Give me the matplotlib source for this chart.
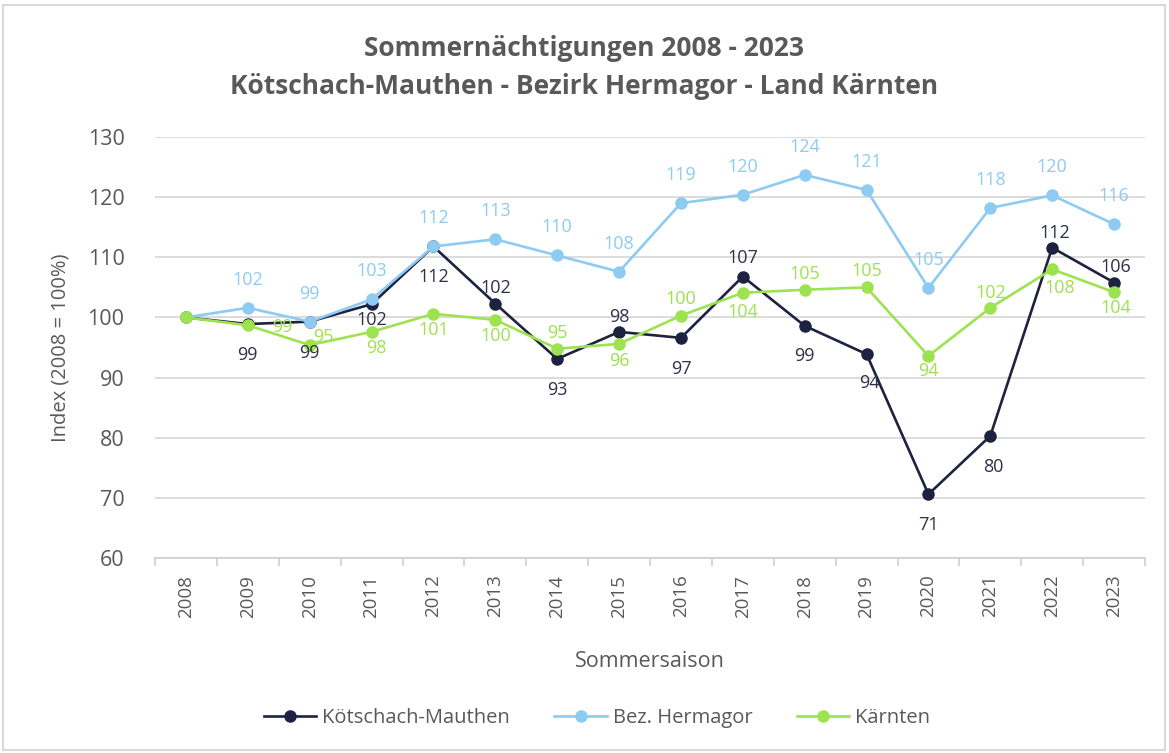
import matplotlib.pyplot as plt
from matplotlib.patches import Rectangle
import numpy as np

# data
years = [str(y) for y in range(2008, 2024)]
koetschach = [100, 98.9, 99.3, 102.2, 111.8, 102.3, 93.1, 97.6, 96.6, 106.8, 98.6, 93.9, 70.6, 80.3, 111.6, 105.8]
hermagor = [100, 101.6, 99.3, 103.0, 111.8, 113.0, 110.3, 107.6, 119.0, 120.4, 123.7, 121.2, 104.9, 118.2, 120.3, 115.5]
kaernten = [100, 98.7, 95.4, 97.6, 100.6, 99.6, 94.8, 95.6, 100.3, 104.1, 104.6, 105.0, 93.6, 101.6, 108.0, 104.2]

# label positions (pixel offsets), None = no label
off_k = [None, (0, -31), (0, -31), (0, -16), (0, -31), (0, 16), (0, -31), (0, 15), (0, -31),
         (0, 19), (0, -30), (3, -29), (0, -31), (3, -31), (3, 15), (2, 16)]
off_h = [None] + [(0, 28)] * 15
off_g = [None, (35, -2), (14, 8), (5, -16), (0, -16), (0, -16), (0, 16), (0, -17), (0, 17),
         (0, -19), (0, 16), (0, 16), (0, -15), (0, 15), (8, -19), (2, -16)]

c_k = '#1d2240'
c_h = '#8ecbf3'
c_g = '#9de24f'
grey = '#595959'

plt.rcParams['font.family'] = ['Open Sans', 'DejaVu Sans']

W, H = 1169, 753
fig = plt.figure(figsize=(W / 100, H / 100), dpi=100)
fig.patches.append(Rectangle((3 / W, 3 / H), 1162 / W, 745 / H, transform=fig.transFigure,
                             fill=False, edgecolor='#d9d9d9', linewidth=1.5))

ax = fig.add_axes([155 / W, 1 - 558 / H, 990 / W, 421 / H])
x = np.arange(len(years))

for vals, col, lab, offs, tcol in [(koetschach, c_k, 'Kötschach-Mauthen', off_k, '#2e3148'),
                                   (hermagor, c_h, 'Bez. Hermagor', off_h, c_h),
                                   (kaernten, c_g, 'Kärnten', off_g, c_g)]:
    ax.plot(x, vals, color=col, linewidth=1.9, marker='o', markersize=8, label=lab)
    for xi, v, o in zip(x, vals, offs):
        if o is None:
            continue
        ax.annotate(str(int(round(v))), (xi, v), xytext=(o[0] * 0.72, o[1] * 0.72),
                    textcoords='offset points', ha='center', va='center',
                    fontsize=13, color=tcol)

ax.set_xlim(-0.5, len(years) - 0.5)
ax.set_ylim(60, 130)
ax.set_yticks(range(60, 131, 10))
ax.grid(axis='y', color='#d9d9d9', linewidth=1.3)
ax.set_axisbelow(True)
for s in ['top', 'right', 'left']:
    ax.spines[s].set_visible(False)
ax.spines['bottom'].set_color('#d0d0d0')
ax.spines['bottom'].set_linewidth(1.3)

ax.set_xticks(x)
ax.set_xticklabels(years, rotation=90, fontsize=13.5, color=grey)
ax.tick_params(axis='x', length=0, pad=12)
ax.set_xticks(np.arange(-0.5, len(years), 1), minor=True)
ax.tick_params(axis='x', which='minor', length=6, color='#d0d0d0', width=1.2)
ax.tick_params(axis='y', length=0, pad=22, labelsize=15.5, labelcolor=grey)

ax.set_xlabel('Sommersaison', fontsize=15.5, color=grey, labelpad=24)
ax.set_ylabel('Index (2008 = 100%)', fontsize=14.5, color=grey, labelpad=12)

fig.text(0.5, 1 - 48 / H, 'Sommernächtigungen 2008 - 2023', ha='center', va='center',
         fontsize=19, fontweight='bold', color=grey)
fig.text(0.5, 1 - 87 / H, 'Kötschach-Mauthen - Bezirk Hermagor - Land Kärnten', ha='center',
         va='center', fontsize=19, fontweight='bold', color=grey)

fig.legend(loc='center', bbox_to_anchor=(597 / W, 1 - 718 / H), ncol=3, frameon=False,
           fontsize=14.5, labelcolor=grey, handlelength=2.6, columnspacing=2.2, handletextpad=0.3)

fig.savefig('out.png', dpi=100)
